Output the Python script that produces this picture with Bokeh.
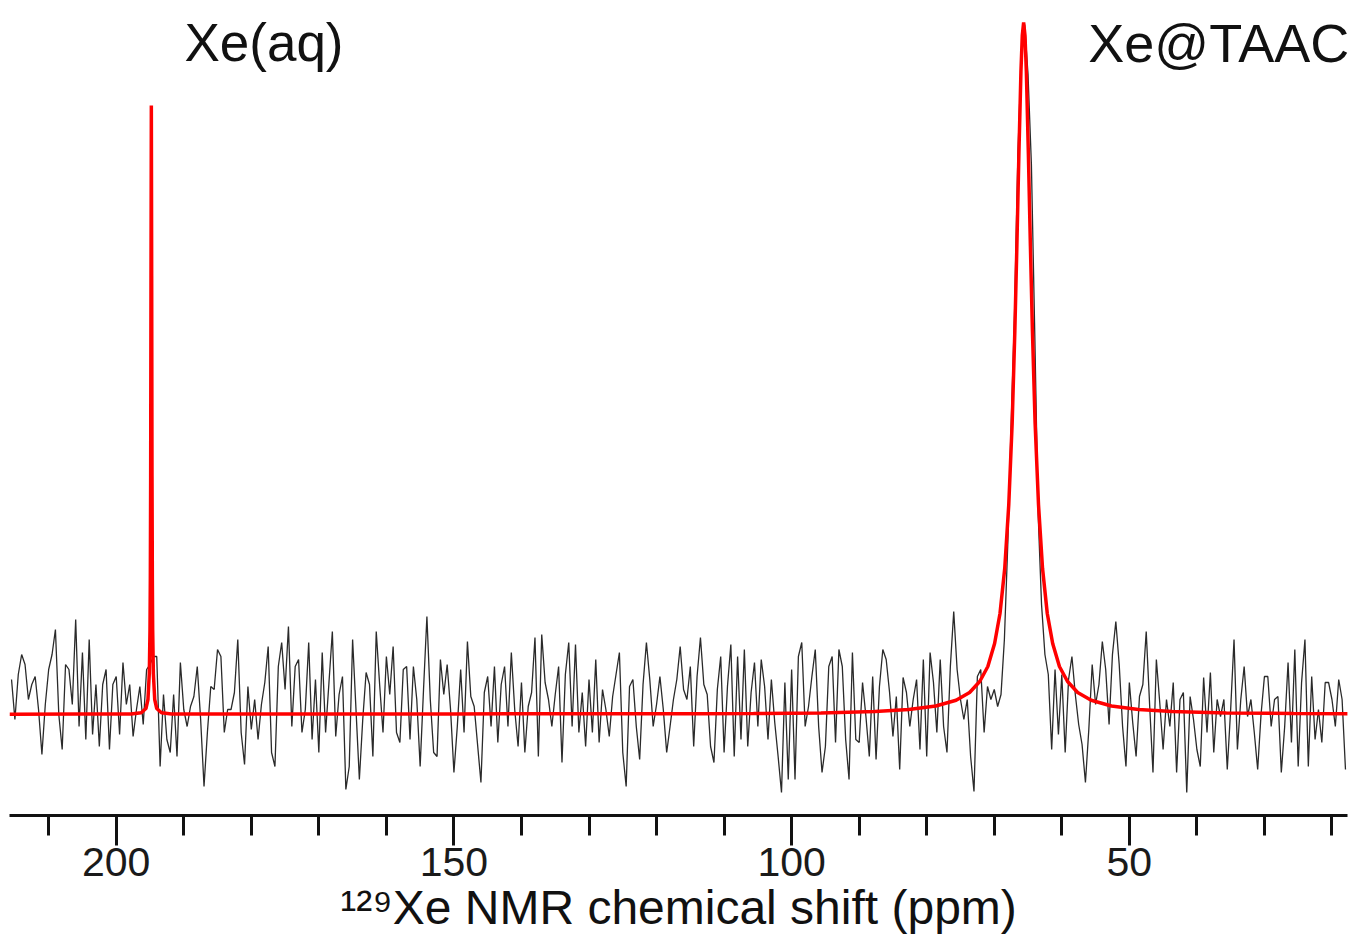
from bokeh.plotting import figure
from bokeh.models import Range1d, FixedTicker, Label
from bokeh.embed import file_html
from bokeh.resources import INLINE
import numpy as np

# ---------------- data ----------------
# measured 129Xe spectrum (intensity, baseline = 0), on a 0.5 ppm grid
spec_first_ppm = 215.5
spec_last_ppm = 18.0
seg_215_167 = [35, -5, 40, 60, 50, 15, 30, 38, 5, -40,
               10, 45, 60, 85, 0, -35, 50, 45, 10, 95,
               -12, 62, -25, 75, -20, 30, -32, 30, 45, -35,
               30, 38, -20, 52, 10, 30, -22, 5, 28, -10,
               45, 50, 58, 58, -52, 20, -25, -38, 20, -42,
               52, 5, -12, 8, 18, 48, -5, -72, -18, 28,
               25, 65, 58, -18, 5, 5, 22, 75, -18, -50,
               28, -15, 15, -25, 10, 32, 68, -38, -52, 48,
               72, 25, 88, -12, 48, 55, -18, 5, 72, -25,
               35, -38, 62, -18, 32, 83, -22, 20]
seg_166_118 = [38, -75, -52, 75, 5, -65, -5, 42, 30, -42,
               83, 30, -18, 58, 20, 68, -18, -28, 45, 48,
               -25, 48, 15, -52, 25, 98, 15, -38, -42, 55,
               20, 50, 5, -58, -12, 45, -18, 73, 18, 8,
               -30, -68, 22, 38, -12, 48, -28, 30, 48, -12,
               62, 5, -32, 32, -38, 8, 22, 77, -42, 80,
               32, 15, -12, 20, 48, -48, 40, 72, -12, 70,
               -18, 22, -32, 35, -18, 55, -28, 25, 5, -22,
               18, 40, 62, -38, -72, 28, 35, -12, -45, 30,
               72, 35, -12, 10, 38, 5, -38, -12]
seg_117_69 = [15, 35, 68, 25, 15, 48, -32, 38, 77, 30,
              20, -32, -48, 25, 58, -38, 28, 70, -42, 58,
              -25, 65, -32, 22, 52, -12, 55, 28, -25, 35,
              -8, -42, -78, 32, -65, 45, -65, 58, 72, -12,
              8, 38, 65, -12, -58, -32, 48, 58, -28, 65,
              48, -25, -65, 62, -25, -28, 32, -2, -42, 38,
              -45, 28, 65, 55, 22, -22, 18, -55, 37, 22,
              -12, 15, 35, -35, 55, -42, 62, 32, -18, 55,
              -12, -38, 48, 103, 45, 15, -5, 15, -42, -77,
              38, 45, -18, 28, 15, 25, 8]
seg_69_62 = [20, 75, 170, 290, 400, 560, 660, 690, 640, 550, 380, 200, 110, 60]
seg_62_18 = [40, -35, 45, -20, 40, -38, 35, 58, 20, -10,
             -30, -68, -15, 50, 10, 30, 73, 45, -10, 60,
             93, 50, -12, -52, 32, -8, -42, 18, 30, 83,
             10, -58, 55, 12, -35, 15, -12, 32, -58, 15,
             22, -78, 18, -5, -35, -52, 37, -18, 42, -38,
             15, -2, 15, -55, 5, 75, -35, 15, 48, -2,
             15, -18, -55, 0, 38, 38, -12, 15, 18, -58,
             -12, 52, -28, 65, -52, 32, 75, -52, 38, -25,
             5, -28, 32, 32, 15, -12, 35, 15, -55]

# fitted curve (ppm, intensity)
fit_ppm = [215.8, 205.0, 197.8, 196.3, 195.6, 195.3, 195.1, 195.0, 194.95, 194.9,
           194.85, 194.8, 194.75, 194.7, 194.65, 194.6, 194.5, 194.3, 194.0, 193.3,
           191.8, 170.0, 150.0, 130.0, 113.65, 105.65, 95.65, 87.65, 82.65, 78.65,
           75.65, 73.65, 72.15, 70.95, 69.95, 69.15, 68.45, 67.85, 67.35, 66.95,
           66.65, 66.35, 66.05, 65.85, 65.65, 65.45, 65.25, 64.95, 64.65, 64.35,
           63.95, 63.45, 62.85, 62.15, 61.35, 60.35, 59.15, 57.65, 55.65, 52.65,
           48.65, 43.65, 35.65, 25.65, 17.65]
fit_int = [0.3, 0.4, 0.4, 1.7, 6, 15, 41, 84, 135, 238,
           438, 609, 438, 238, 135, 84, 41, 15, 6, 1.7,
           0.5, 0.5, 0.6, 0.8, 0.63, 0.9, 1.6, 3.0, 5.0, 8.5,
           14.2, 22, 33, 48, 71, 101, 146, 210, 291, 384,
           469, 561, 643, 679, 692, 679, 643, 561, 469, 384,
           291, 210, 146, 101, 71, 48, 33, 22, 14.2, 8.5,
           5.0, 3.0, 1.6, 0.9, 0.63]

major_ticks = [200, 150, 100, 50]
minor_ticks = [210, 190, 180, 170, 160, 140, 130, 120, 110, 90, 80, 70, 60, 40, 30, 20]
peak_labels = ["Xe(aq)", "Xe@TAAC"]
x_title = "\u00b9\u00b2\u2079Xe NMR chemical shift (ppm)"

intensity = seg_215_167 + seg_166_118 + seg_117_69 + seg_69_62 + seg_62_18
ppm = np.linspace(spec_first_ppm, spec_last_ppm, len(intensity))

# ---------------- figure ----------------
p = figure(width=1352, height=938, output_backend="svg", toolbar_location=None,
           x_range=Range1d(215.8, 17.7), y_range=Range1d(-101, 706),
           y_axis_location=None,
           min_border_left=9, min_border_right=5, min_border_top=8, min_border_bottom=123)
p.outline_line_color = None
p.grid.visible = False
p.background_fill_color = "white"
p.border_fill_color = "white"

p.line(ppm, intensity, line_color="#2a2a2a", line_width=1.3)
p.line(fit_ppm, fit_int, line_color="#ff0000", line_width=3.5)

ax = p.xaxis[0]
ax.ticker = FixedTicker(ticks=major_ticks, minor_ticks=minor_ticks)
ax.axis_line_width = 3
ax.axis_line_color = "#111111"
ax.major_tick_line_width = 3
ax.minor_tick_line_width = 3
ax.major_tick_line_color = "#111111"
ax.minor_tick_line_color = "#111111"
ax.major_tick_in = 0
ax.minor_tick_in = 0
ax.major_tick_out = 30
ax.minor_tick_out = 20
ax.major_label_standoff = 2
ax.major_label_text_font = "Liberation Sans"
ax.major_label_text_font_size = "41px"
ax.major_label_text_color = "#1a1a1a"
ax.axis_label = x_title
ax.axis_label_text_font = "Liberation Sans"
ax.axis_label_text_font_size = "48px"
ax.axis_label_text_font_style = "normal"
ax.axis_label_text_color = "#111111"
ax.axis_label_standoff = 2

# peak labels (data units: 1 unit = 1 px, baseline at page y=714)
p.add_layout(Label(x=189.9, y=672, text=peak_labels[0], text_font="Liberation Sans",
                   text_font_size="53px", text_color="#111111",
                   text_align="left", text_baseline="alphabetic"))
p.add_layout(Label(x=17.45, y=672, text=peak_labels[1], text_font="Liberation Sans",
                   text_font_size="54px", text_color="#111111",
                   text_align="right", text_baseline="alphabetic"))

open("out.html", "w").write(file_html(p, INLINE))
